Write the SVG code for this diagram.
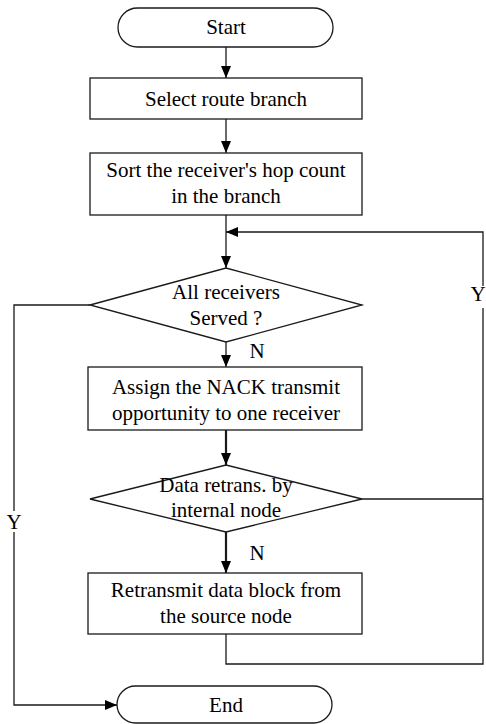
<svg xmlns="http://www.w3.org/2000/svg" width="486" height="724" viewBox="0 0 486 724">
  <style>
    .shape { fill: #fff; stroke: #1a1a1a; stroke-width: 1.3; }
    .label { font-size: 21px; fill: #000; text-anchor: middle; }
    .wire { fill: none; stroke: #1a1a1a; stroke-width: 1.3; }
    .wire.bold { stroke-width: 2.2; }
    .gap { fill: #fff; stroke: none; }
  </style>
  <defs>
    <marker id="arrow" viewBox="0 0 12 10" refX="12" refY="5" markerWidth="12" markerHeight="10" markerUnits="userSpaceOnUse" orient="auto">
      <path d="M0,0 L12,5 L0,10 z" fill="#000"/>
    </marker>
  </defs>

  <rect width="486" height="724" fill="#fff"/>

  <g font-family="'Liberation Serif', 'Times New Roman', 'DejaVu Serif', serif">
  <!-- connectors -->
  <g id="connectors">
    <path class="wire" d="M226,47 V78" marker-end="url(#arrow)"/>
    <path class="wire" d="M226,119 V153" marker-end="url(#arrow)"/>
    <path class="wire" d="M226,215 V268" marker-end="url(#arrow)"/>
    <path class="wire" d="M226,342 V367" marker-end="url(#arrow)"/>
    <path class="wire bold" d="M226,430 V465" marker-end="url(#arrow)"/>
    <path class="wire bold" d="M226,532 V573" marker-end="url(#arrow)"/>
    <!-- return loop to the served check -->
    <path class="wire" d="M226,634 V664 H483 V232 H226" marker-end="url(#arrow)"/>
    <path class="wire" d="M362,499 H483"/>
    <!-- exit branch to End -->
    <path class="wire" d="M90,305 H14 V705 H117" marker-end="url(#arrow)"/>
    <!-- branch labels -->
    <rect class="gap" x="472" y="286" width="14" height="22"/>
    <text class="label" x="478" y="301">Y</text>
    <rect class="gap" x="5" y="511" width="18" height="21"/>
    <text class="label" x="14" y="529">Y</text>
    <text class="label" x="257" y="358">N</text>
    <text class="label" x="257" y="560">N</text>
  </g>

  <g id="start">
    <rect class="shape" x="118" y="8" width="215" height="39" rx="19.5"/>
    <text class="label" x="226" y="34">Start</text>
  </g>

  <g id="select-branch">
    <rect class="shape" x="90" y="78" width="272" height="41"/>
    <text class="label" x="226" y="106">Select route branch</text>
  </g>

  <g id="sort-hops">
    <rect class="shape" x="90" y="153" width="272" height="62"/>
    <text class="label" x="226" y="177">Sort the receiver's hop count</text>
    <text class="label" x="226" y="203">in the branch</text>
  </g>

  <g id="all-served">
    <polygon class="shape" points="90,305 226,268 362,305 226,342"/>
    <text class="label" x="226" y="299">All receivers</text>
    <text class="label" x="226" y="325">Served ?</text>
  </g>

  <g id="assign-nack">
    <rect class="shape" x="88" y="367" width="274" height="63"/>
    <text class="label" x="226" y="394">Assign the NACK transmit</text>
    <text class="label" x="226" y="420">opportunity to one receiver</text>
  </g>

  <g id="internal-retrans">
    <polygon class="shape" points="90,499 226,465 362,499 226,532"/>
    <text class="label" x="226" y="492">Data retrans. by</text>
    <text class="label" x="226" y="517">internal node</text>
  </g>

  <g id="source-retrans">
    <rect class="shape" x="88" y="573" width="274" height="61"/>
    <text class="label" x="226" y="597">Retransmit data block from</text>
    <text class="label" x="226" y="623">the source node</text>
  </g>

  <g id="end">
    <rect class="shape" x="117" y="686" width="215" height="37" rx="18.5"/>
    <text class="label" x="226" y="712">End</text>
  </g>
  </g>
</svg>
